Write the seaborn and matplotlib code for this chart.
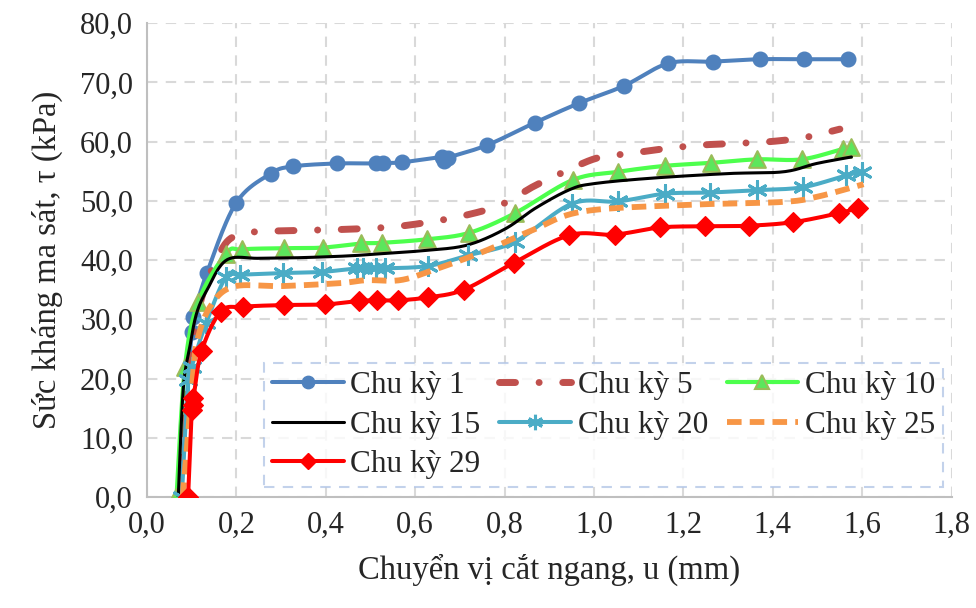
import numpy as np
import pandas as pd
import matplotlib
matplotlib.use("Agg")
import matplotlib.pyplot as plt
from matplotlib.lines import Line2D
import seaborn as sns

# Shear displacement u (mm) and frictional shear resistance tau (kPa) per loading cycle
u_c1 = [0.075, 0.100, 0.104, 0.134, 0.199, 0.277, 0.326, 0.424, 0.512, 0.529, 0.571,
        0.661, 0.665, 0.674, 0.761, 0.868, 0.967, 1.067, 1.166, 1.266, 1.371, 1.470, 1.569]
t_c1 = [0.0, 27.9, 30.4, 37.8, 49.6, 54.6, 55.8, 56.3, 56.3, 56.4, 56.5,
        57.4, 56.8, 57.3, 59.4, 63.2, 66.5, 69.4, 73.2, 73.5, 73.9, 73.9, 73.9]

u_c5 = [0.072, 0.090, 0.120, 0.165, 0.200, 0.250, 0.350, 0.450, 0.550, 0.639, 0.715,
        0.791, 0.864, 0.931, 1.006, 1.081, 1.159, 1.237, 1.319, 1.395, 1.472, 1.550]
t_c5 = [0.0, 20.0, 33.0, 41.5, 44.2, 44.8, 45.0, 45.2, 45.6, 46.5, 47.6,
        49.3, 52.4, 54.8, 57.2, 58.0, 58.8, 59.4, 59.7, 60.0, 60.7, 62.1]

u_c10 = [0.066, 0.085, 0.115, 0.177, 0.212, 0.306, 0.393, 0.479, 0.525, 0.626, 0.721,
         0.823, 0.952, 1.054, 1.159, 1.261, 1.364, 1.465, 1.558, 1.575]
t_c10 = [0.0, 22.0, 33.0, 41.1, 41.8, 42.0, 42.1, 42.8, 42.9, 43.5, 44.6,
         47.9, 53.5, 54.9, 55.9, 56.4, 57.0, 57.0, 58.8, 59.1]

u_c15 = [0.070, 0.081, 0.096, 0.111, 0.134, 0.178, 0.250, 0.342, 0.450, 0.529, 0.620,
         0.715, 0.800, 0.870, 0.946, 1.000, 1.125, 1.300, 1.424, 1.498, 1.576]
t_c15 = [0.0, 18.1, 25.4, 31.0, 34.9, 40.0, 40.3, 40.4, 40.7, 41.1, 41.6,
         42.5, 45.2, 48.8, 51.9, 52.9, 53.8, 54.6, 54.9, 56.3, 57.4]

u_c20 = [0.078, 0.092, 0.100, 0.132, 0.177, 0.208, 0.304, 0.391, 0.470, 0.484, 0.512,
         0.532, 0.629, 0.719, 0.823, 0.950, 1.054, 1.159, 1.259, 1.365, 1.468, 1.564, 1.599]
t_c20 = [0.0, 19.7, 22.0, 29.3, 37.2, 37.5, 37.8, 38.0, 38.6, 38.6, 38.6,
         38.6, 39.0, 40.8, 43.1, 49.5, 49.9, 51.2, 51.4, 51.8, 52.3, 54.3, 54.9]

u_c25 = [0.080, 0.100, 0.111, 0.141, 0.193, 0.300, 0.432, 0.491, 0.566, 0.640, 0.752,
         0.864, 0.975, 1.200, 1.420, 1.500, 1.603]
t_c25 = [0.0, 18.0, 25.9, 32.1, 35.5, 35.6, 36.1, 36.6, 36.6, 38.3, 41.4,
         45.1, 48.2, 49.3, 49.8, 50.7, 52.8]

u_c29 = [0.092, 0.100, 0.102, 0.104, 0.122, 0.165, 0.214, 0.306, 0.398, 0.475, 0.515,
         0.562, 0.629, 0.709, 0.820, 0.945, 1.047, 1.148, 1.248, 1.347, 1.446, 1.547, 1.591]
t_c29 = [0.0, 14.7, 15.5, 16.7, 24.6, 31.3, 32.1, 32.4, 32.5, 33.1, 33.2,
         33.2, 33.7, 35.0, 39.5, 44.2, 44.3, 45.5, 45.7, 45.8, 46.4, 47.9, 48.8]

cycle_labels = ["Chu kỳ 1", "Chu kỳ 5", "Chu kỳ 10", "Chu kỳ 15",
                "Chu kỳ 20", "Chu kỳ 25", "Chu kỳ 29"]
x_ticks = [0.0, 0.2, 0.4, 0.6, 0.8, 1.0, 1.2, 1.4, 1.6, 1.8]
y_ticks = [0, 10, 20, 30, 40, 50, 60, 70, 80]


def smooth(xs, ys, n=24):
    """Smoothed-line rendering (cubic Bezier through every point, Catmull-Rom tangents)."""
    p = np.column_stack([xs, ys]).astype(float)
    out = [p[0]]
    for i in range(len(p) - 1):
        p0 = p[i - 1] if i > 0 else p[i]
        p1, p2 = p[i], p[i + 1]
        p3 = p[i + 2] if i + 2 < len(p) else p[i + 1]
        c1 = p1 + (p2 - p0) / 6.0
        c2 = p2 - (p3 - p1) / 6.0
        t = np.linspace(0, 1, n)[1:, None]
        seg = ((1 - t) ** 3) * p1 + 3 * ((1 - t) ** 2) * t * c1 + 3 * (1 - t) * t ** 2 * c2 + t ** 3 * p2
        out.extend(seg)
    out = np.array(out)
    return out[:, 0], out[:, 1]


sns.set_theme(style="white")
plt.rcParams["font.family"] = ["Liberation Serif", "DejaVu Serif"]

fig = plt.figure(figsize=(9.76, 6.08), dpi=100)
ax = fig.add_axes([0.1506, 0.1826, 0.8244, 0.7794])

series = [
    dict(u=u_c1, t=t_c1, color="#4F81BD", lw=2.9, ls="-", marker="o", ms=10.5,
         mfc="#4F81BD", mec="#4F81BD", mew=1),
    dict(u=u_c5, t=t_c5, color="#C0504D", lw=5.0, ls=(0, (2.3, 3.4, 0.01, 3.4)), marker=None,
         cap="round"),
    dict(u=u_c10, t=t_c10, color="#4DFF4D", lw=3.0, ls="-", marker="^", ms=12,
         mfc="#5CE65C", mec="#9BBB59", mew=1.5),
    dict(u=u_c15, t=t_c15, color="black", lw=2.2, ls="-", marker=None),
    dict(u=u_c20, t=t_c20, color="#4BACC6", lw=2.9, ls="-", marker=(6, 2, 0), ms=13,
         mfc="#4BACC6", mec="#4BACC6", mew=2.2),
    dict(u=u_c25, t=t_c25, color="#F79646", lw=4.2, ls=(0, (2.5, 1.4)), marker=None,
         cap="butt"),
    dict(u=u_c29, t=t_c29, color="#FF0000", lw=2.9, ls="-", marker="D", ms=10,
         mfc="#FF0000", mec="#FF0000", mew=1),
]

handles = []
for i, s in enumerate(series):
    sx, sy = smooth(s["u"], s["t"])
    df = pd.DataFrame({"u": sx, "tau": sy})
    sns.lineplot(data=df, x="u", y="tau", ax=ax, sort=False, estimator=None,
                 color=s["color"], lw=s["lw"], zorder=3 + i)
    line = ax.lines[-1]
    line.set_linestyle(s["ls"])
    if "cap" in s:
        line.set_dash_capstyle(s["cap"])
    if s["marker"] is not None:
        pts = pd.DataFrame({"u": s["u"], "tau": s["t"]})
        sns.scatterplot(data=pts, x="u", y="tau", ax=ax, marker=s["marker"],
                        s=s["ms"] ** 2, color=s["mfc"], edgecolor=s["mec"],
                        linewidth=s["mew"], zorder=3.5 + i)
    h = Line2D([], [], color=s["color"], lw=s["lw"], ls=s["ls"],
               marker=s["marker"] if s["marker"] is not None else "",
               ms=s.get("ms", 0) * 0.85, mfc=s.get("mfc"), mec=s.get("mec"),
               mew=s.get("mew", 1))
    if "cap" in s:
        h.set_dash_capstyle(s["cap"])
    handles.append(h)

ax.set_xlim(0, 1.8)
ax.set_ylim(0, 80)
ax.set_xticks(x_ticks)
ax.set_yticks(y_ticks)
ax.set_xticklabels([f"{v:.1f}".replace(".", ",") for v in x_ticks], fontsize=22)
ax.set_yticklabels([f"{v:.1f}".replace(".", ",") for v in y_ticks], fontsize=22)
ax.tick_params(axis="x", direction="in", length=5, color="#BFBFBF", pad=10)
ax.tick_params(axis="y", length=0, pad=10)

ax.grid(True, color="#D9D9D9", linestyle=(0, (5, 4)), linewidth=1.5)
ax.set_axisbelow(True)
for side in ("top", "right"):
    ax.spines[side].set_visible(False)
for side in ("left", "bottom"):
    ax.spines[side].set_color("#BFBFBF")
    ax.spines[side].set_linewidth(1.5)

ax.set_xlabel("Chuyển vị cắt ngang, u (mm)", fontsize=23.5, labelpad=10)
ax.set_ylabel("Sức kháng ma sát, τ (kPa)", fontsize=23.5, labelpad=12)

order = [0, 3, 6, 1, 4, 2, 5]
leg = ax.legend([handles[k] for k in order], [cycle_labels[k] for k in order],
                ncol=3, loc="lower right", bbox_to_anchor=(0.989, 0.021),
                fontsize=22.5, numpoints=1, handlelength=2.3, handletextpad=0.2,
                columnspacing=0.6, labelspacing=0.34, borderpad=0.25,
                frameon=True, fancybox=False, borderaxespad=0)
frame = leg.get_frame()
frame.set_edgecolor("#B4C7E7")
frame.set_linestyle((0, (5, 4)))
frame.set_linewidth(1.5)
frame.set_facecolor("white")
leg.set_zorder(20)

fig.savefig("out.png", dpi=100)
